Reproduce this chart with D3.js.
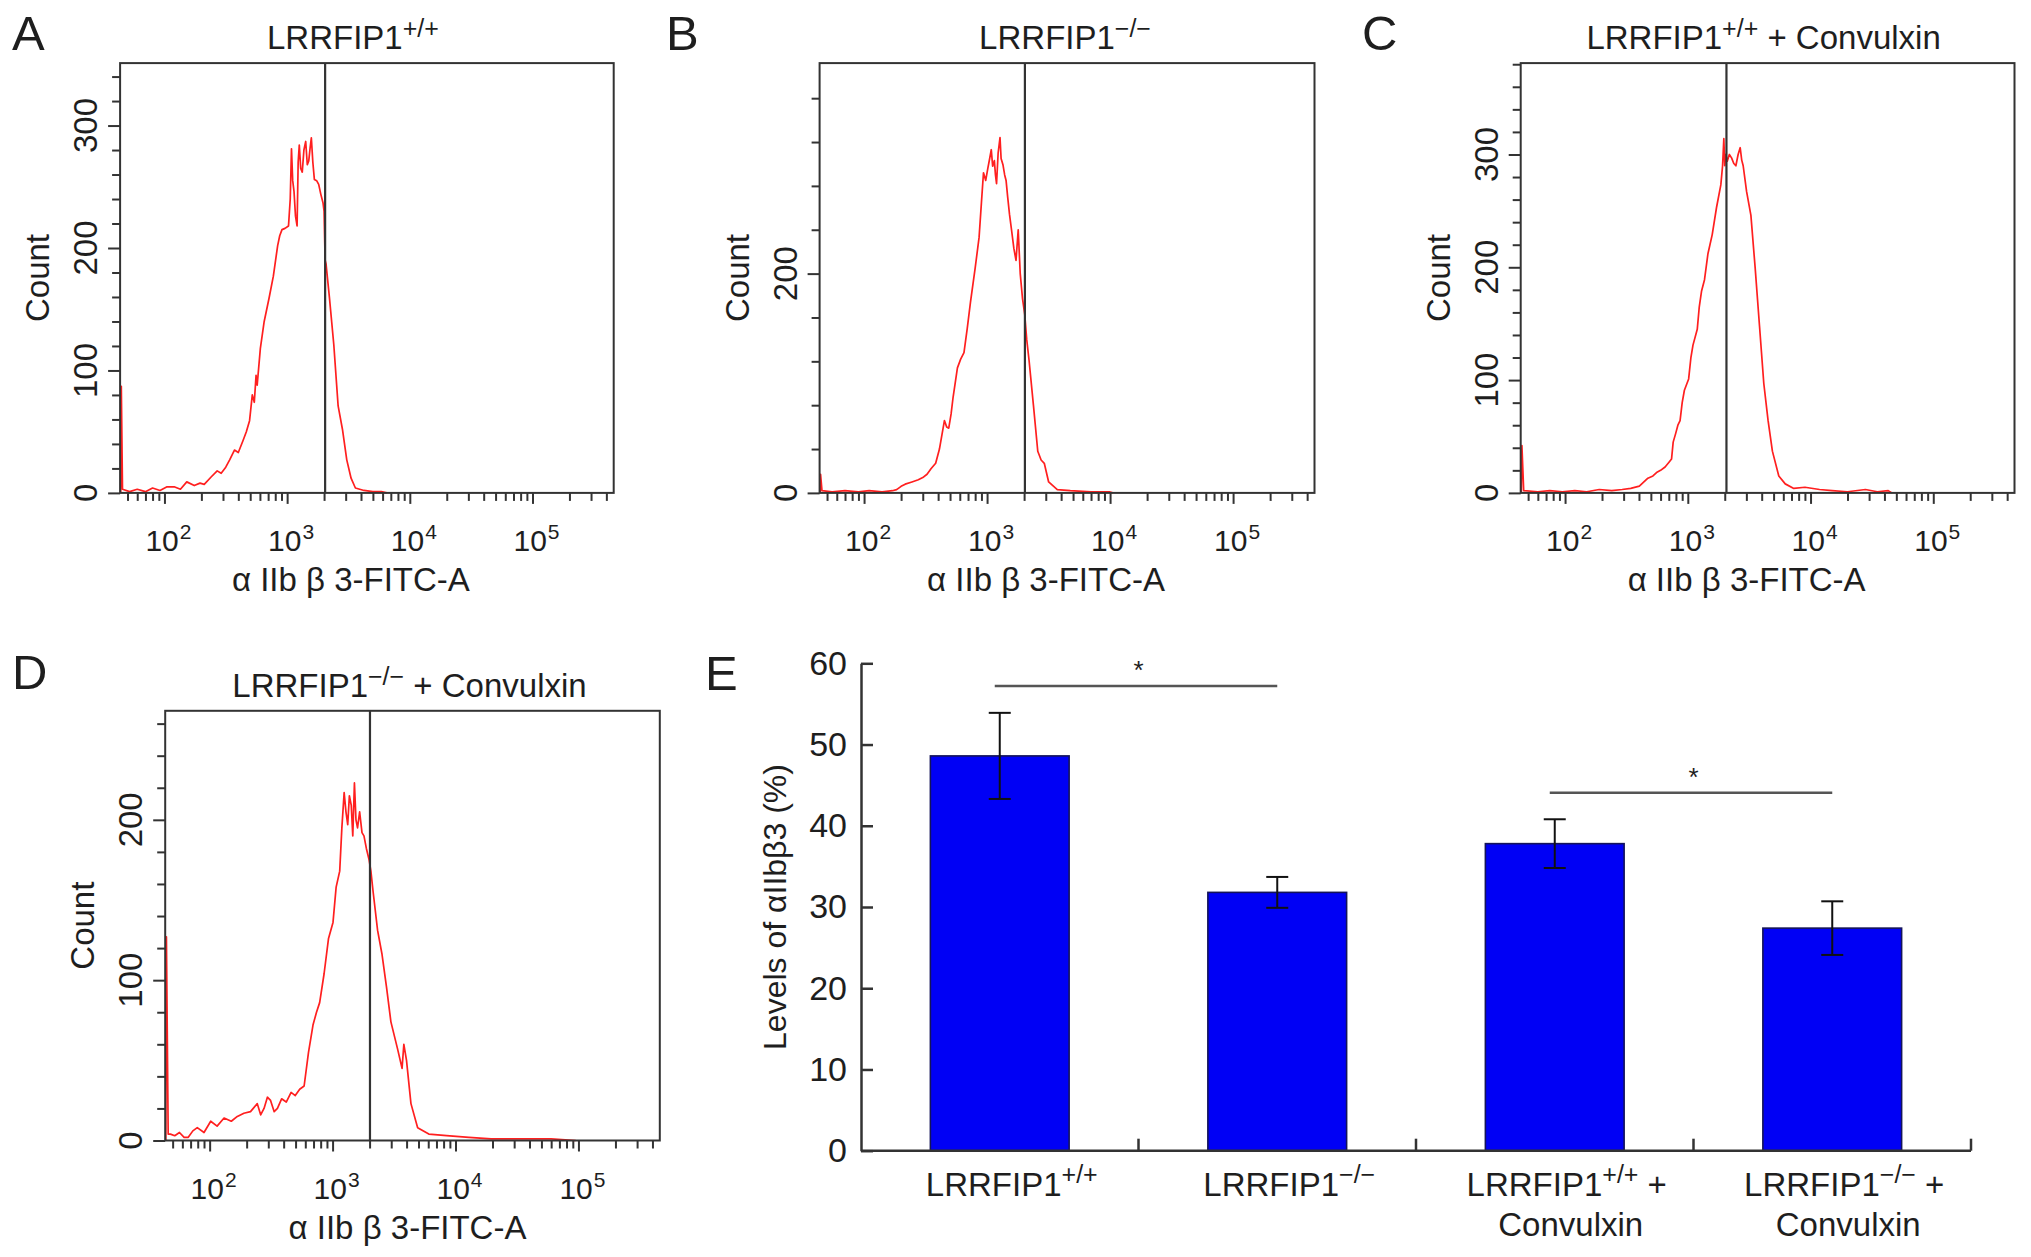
<!DOCTYPE html>
<html><head><meta charset="utf-8">
<script src="https://cdn.jsdelivr.net/npm/d3@7"></script>
<style>
body{margin:0;background:#fff}
svg{display:block}
text{font-family:"Liberation Sans",Arial,Helvetica,sans-serif;fill:#1e1e1e}
</style>
</head><body>
<svg id="chart" width="2031" height="1257"></svg>
<script>
// ---------------- DATA ----------------
// Histogram panels: [fluorescence intensity, count]
const histA = [[44,0],[44.5,87],[45.5,3],[52,1],[60,3],[70,1],[80,4],[92,2],[105,5],[120,5],[135,3],[152,9],[175,6],[195,8],[211,7],[240,13],[269,18],[290,16],[316,21],[340,27],[372,35],[400,33],[438,43],[465,50],[494,59],[520,80],[540,74],[558,96],[570,88],[605,118],[650,140],[712,159],[772,177],[837,202],[870,210],[908,215],[960,216],[1026,218],[1060,240],[1085,281],[1110,255],[1138,246],[1170,226],[1205,218],[1230,270],[1256,284],[1290,265],[1328,262],[1370,280],[1417,287],[1460,268],[1500,271],[1540,282],[1575,290],[1620,270],[1667,256],[1740,255],[1808,252],[1880,244],[1960,237],[2000,230],[2040,190],[2075,187],[2214,159],[2401,121],[2604,71],[2823,52],[3062,27],[3320,12],[3600,4],[4235,2],[5000,1],[5860,1],[6500,0]];
const histB = [[44,0],[44.3,17],[45.5,2],[55,1],[70,2],[90,1],[110,2],[140,1],[170,2],[184,3],[200,6],[216,8],[245,10],[276,12],[300,14],[325,17],[350,22],[382,27],[410,40],[450,66],[470,60],[488,59],[510,72],[529,87],[574,114],[610,122],[649,128],[690,150],[733,174],[800,205],[861,233],[900,265],[935,292],[975,285],[1014,296],[1050,305],[1082,313],[1110,298],[1146,303],[1170,290],[1194,282],[1230,310],[1274,324],[1300,305],[1348,299],[1390,290],[1427,285],[1470,270],[1522,254],[1580,240],[1651,223],[1719,212],[1791,240],[1860,200],[1942,177],[2023,163],[2100,140],[2194,121],[2381,80],[2583,38],[2750,30],[2918,27],[3166,10],[3722,3],[4752,2],[7000,1],[9860,1],[10500,0]];
const histC = [[44,0],[44.5,42],[46,2],[60,1],[75,2],[95,1],[120,2],[150,1],[190,3],[240,2],[292,3],[343,4],[403,6],[473,13],[520,15],[556,18],[600,20],[653,23],[700,27],[737,30],[760,45],[798,53],[830,60],[865,64],[900,80],[938,91],[1016,101],[1060,120],[1102,131],[1194,145],[1240,165],[1295,179],[1368,189],[1459,212],[1581,229],[1714,253],[1858,273],[1920,290],[1966,314],[2000,290],[2040,300],[2097,294],[2180,300],[2273,297],[2370,292],[2464,290],[2570,300],[2671,306],[2750,295],[2826,290],[3014,267],[3267,246],[3541,199],[3839,148],[4161,97],[4510,64],[4889,37],[5512,15],[6220,8],[7306,4],[9000,5],[11840,3],[15000,2],[20000,1],[28000,3],[35000,1],[42950,2],[46000,0]];
const histD = [[44,0],[44.5,127],[46,4],[48,4],[52,3],[56.8,5],[62,2],[67,2],[73,6],[79.3,8],[90,5],[102,12],[115,9],[131,14],[150,12],[168,15],[190,17],[215,18],[244,23],[260,16],[277,20],[295,27],[313,25],[335,18],[356,20],[385,26],[420,24],[460,30],[497,28],[540,32],[587,34],[637,55],[693,72],[740,80],[785,86],[853,104],[927,126],[1008,136],[1069,158],[1143,168],[1190,195],[1242,217],[1285,205],[1328,197],[1370,215],[1419,209],[1460,190],[1506,223],[1550,200],[1596,195],[1660,205],[1735,192],[1800,190],[1885,182],[1982,175],[2050,168],[2138,155],[2324,131],[2526,116],[2743,96],[2982,74],[3381,57],[3675,45],[3800,60],[3994,50],[4341,23],[4921,8],[6064,4],[8470,3],[12850,2],[19500,1],[30000,1],[44900,1],[60000,1],[95100,0]];

const panelLetters = ["A","B","C","D","E"];
const panelGenotype = ["+/+","\u2212/\u2212","+/+","\u2212/\u2212"];
const panelTreated = [false,false,true,true];
const gateValues = [2040,2030,2065,2015];
const countMax = [351,392,381,268];
const countMinorStep = [20,40,20,20];
const countMajorTicks = [[0,100,200,300],[0,200],[0,100,200,300],[0,100,200]];
const xDomain = [43.5,459000];
const xDecades = [100,1000,10000,100000];
const xLabel = "\u03b1 IIb \u03b2 3-FITC-A";

// Bar chart panel E
const groups = ["LRRFIP1 +/+","LRRFIP1 -/-","LRRFIP1 +/+ + Convulxin","LRRFIP1 -/- + Convulxin"];
const groupSup = ["+/+","\u2212/\u2212","+/+","\u2212/\u2212"];
const groupLine2 = ["","","Convulxin","Convulxin"];
const means = [48.6,31.8,37.8,27.4];
const sems = [5.3,1.9,3.0,3.3];
const yTicksE = [0,10,20,30,40,50,60];
const sigPairs = [[0,1,57.2],[2,3,44.05]];
const yLabelE = "Levels of \u03b1IIb\u03b23 (%)";

// ---------------- LAYOUT ----------------
const svg = d3.select("#chart");
const boxes = [
  {l:120.1,r:613.7,t:63.1,b:492.9,xl:-16,tl:-14},
  {l:819.6,r:1314.5,t:63.1,b:492.9,xl:-21,tl:-2},
  {l:1520.7,r:2014.5,t:63.1,b:492.9,xl:-21,tl:-4},
  {l:165.2,r:659.8,t:710.8,b:1140.5,xl:-5,tl:-3}
];
const histData = [histA,histB,histC,histD];
const letterPos = [[12,50],[666,50],[1362,50],[12,689],[705,690]];

panelLetters.forEach((L,i)=>{
  svg.append("text").attr("x",letterPos[i][0]).attr("y",letterPos[i][1])
    .attr("font-size",49).text(L);
});

function minorVals(){
  const v=[];
  for(let n=1;n<=5;n++) for(let k=2;k<=9;k++){
    const val=k*Math.pow(10,n);
    if(val>=xDomain[0]&&val<=xDomain[1]) v.push(val);
  }
  return v;
}

histData.forEach((data,i)=>{
  const bx = boxes[i];
  const g = svg.append("g");
  const x = d3.scaleLog().domain(xDomain).range([bx.l,bx.r]);
  const y = d3.scaleLinear().domain([0,countMax[i]]).range([bx.b,bx.t]);

  // x ticks
  const gxMinor = g.append("g").attr("transform",`translate(0,${bx.b})`)
    .call(d3.axisBottom(x).tickValues(minorVals()).tickSize(8).tickSizeOuter(0).tickFormat(()=>""));
  const gxMajor = g.append("g").attr("transform",`translate(0,${bx.b})`)
    .call(d3.axisBottom(x).tickValues(xDecades).tickSize(11).tickSizeOuter(0).tickFormat(()=>""));
  [gxMinor,gxMajor].forEach(a=>{a.select(".domain").remove();a.selectAll("line").attr("stroke","#333").attr("stroke-width",2);});

  xDecades.forEach(v=>{
    const t = g.append("text").attr("x",x(v)+4).attr("y",bx.b+58)
      .attr("text-anchor","middle").attr("font-size",30);
    t.append("tspan").text("10");
    t.append("tspan").attr("font-size",21).attr("dx",1).attr("dy",-12).text(Math.round(Math.log10(v)));
  });

  // y ticks
  const minors = d3.range(0,countMax[i],countMinorStep[i]).filter(v=>!countMajorTicks[i].includes(v));
  const gyMinor = g.append("g").attr("transform",`translate(${bx.l},0)`)
    .call(d3.axisLeft(y).tickValues(minors).tickSize(8).tickSizeOuter(0).tickFormat(()=>""));
  const gyMajor = g.append("g").attr("transform",`translate(${bx.l},0)`)
    .call(d3.axisLeft(y).tickValues(countMajorTicks[i]).tickSize(12).tickSizeOuter(0).tickFormat(()=>""));
  [gyMinor,gyMajor].forEach(a=>{a.select(".domain").remove();a.selectAll("line").attr("stroke","#333").attr("stroke-width",2);});
  countMajorTicks[i].forEach(v=>{
    g.append("text").attr("transform",`translate(${bx.l-23},${y(v)}) rotate(-90)`)
      .attr("text-anchor","middle").attr("font-size",33).text(v);
  });

  // histogram curve
  g.append("path").datum(data)
    .attr("d",d3.line().x(d=>x(d[0])).y(d=>y(d[1])))
    .attr("fill","none").attr("stroke","#ff1f1f").attr("stroke-width",1.7).attr("stroke-linejoin","round");

  // gate line
  g.append("line").attr("x1",x(gateValues[i])).attr("x2",x(gateValues[i]))
    .attr("y1",bx.t).attr("y2",bx.b).attr("stroke","#333").attr("stroke-width",2.2);

  // frame
  g.append("rect").attr("x",bx.l).attr("y",bx.t).attr("width",bx.r-bx.l).attr("height",bx.b-bx.t)
    .attr("fill","none").attr("stroke","#333").attr("stroke-width",2);

  // title
  const cx=(bx.l+bx.r)/2;
  const tt = g.append("text").attr("x",cx+bx.tl).attr("y",bx.t-14).attr("text-anchor","middle").attr("font-size",33);
  tt.append("tspan").text("LRRFIP1");
  tt.append("tspan").attr("font-size",25).attr("dy",-12).text(panelGenotype[i]);
  if(panelTreated[i]) tt.append("tspan").attr("dy",12).text(" + Convulxin");

  // axis labels
  g.append("text").attr("x",cx+bx.xl).attr("y",bx.b+98).attr("text-anchor","middle").attr("font-size",33).text(xLabel);
  g.append("text").attr("transform",`translate(${bx.l-71},${(bx.t+bx.b)/2}) rotate(-90)`)
    .attr("text-anchor","middle").attr("font-size",33).text("Count");
});

// ---------------- PANEL E ----------------
const E = {l:861,r:1971,t:663.3,b:1150.7};
const xE = d3.scaleBand().domain(groups).range([E.l,E.r]).paddingInner(0.5).paddingOuter(0.25);
const yE = d3.scaleLinear().domain([0,60]).range([E.b,E.t]);
const gE = svg.append("g");

// bars
gE.selectAll("rect.bar").data(groups).join("rect").attr("class","bar")
  .attr("x",d=>xE(d)).attr("width",xE.bandwidth())
  .attr("y",(d,i)=>yE(means[i])).attr("height",(d,i)=>yE(0)-yE(means[i]))
  .attr("fill","#0000f5").attr("stroke","#14145a").attr("stroke-width",1.6);

// error bars
groups.forEach((d,i)=>{
  const cx = xE(d)+xE.bandwidth()/2;
  const eg = gE.append("g").attr("stroke","#111").attr("stroke-width",2);
  eg.append("line").attr("x1",cx).attr("x2",cx).attr("y1",yE(means[i]+sems[i])).attr("y2",yE(means[i]-sems[i]));
  [means[i]+sems[i],means[i]-sems[i]].forEach(v=>{
    eg.append("line").attr("x1",cx-11).attr("x2",cx+11).attr("y1",yE(v)).attr("y2",yE(v));
  });
});

// y axis
const gyE = gE.append("g").attr("transform",`translate(${E.l},0)`)
  .call(d3.axisLeft(yE).tickValues(yTicksE).tickSizeInner(-12).tickSizeOuter(0).tickPadding(14));
gyE.select(".domain").attr("stroke","#333").attr("stroke-width",2.5);
gyE.selectAll(".tick line").attr("stroke","#333").attr("stroke-width",2.5);
gyE.selectAll(".tick text").attr("font-size",34).attr("font-family","Liberation Sans, Arial, sans-serif").attr("fill","#1e1e1e");

// x axis line + inward ticks at band boundaries
gE.append("line").attr("x1",E.l).attr("x2",E.r).attr("y1",yE(0)).attr("y2",yE(0)).attr("stroke","#333").attr("stroke-width",2.5);
const step = xE.step();
groups.forEach((d,i)=>{
  const bx = i<groups.length-1 ? xE(groups[i+1]) - step*xE.paddingInner()/2 : E.r;
  gE.append("line").attr("x1",bx).attr("x2",bx).attr("y1",yE(0)).attr("y2",yE(0)-12).attr("stroke","#333").attr("stroke-width",2.5);
});

// category labels
groups.forEach((d,i)=>{
  const cx = xE(d)+xE.bandwidth()/2+12;
  const t = gE.append("text").attr("x",cx).attr("y",1196).attr("text-anchor","middle").attr("font-size",33);
  t.append("tspan").text("LRRFIP1");
  t.append("tspan").attr("font-size",25).attr("dy",-13).text(groupSup[i]);
  if(groupLine2[i]){
    t.append("tspan").attr("dy",13).text(" +");
    gE.append("text").attr("x",cx+4).attr("y",1236).attr("text-anchor","middle").attr("font-size",33).text(groupLine2[i]);
  }
});

// y label
gE.append("text").attr("transform",`translate(786,${(E.t+E.b)/2}) rotate(-90)`)
  .attr("text-anchor","middle").attr("font-size",32).text(yLabelE);

// significance
sigPairs.forEach(([a,b,lvl])=>{
  const x1 = xE(groups[a])+xE.bandwidth()/2, x2 = xE(groups[b])+xE.bandwidth()/2;
  gE.append("line").attr("x1",x1-5).attr("x2",x2).attr("y1",yE(lvl)).attr("y2",yE(lvl)).attr("stroke","#555").attr("stroke-width",2.5);
  gE.append("text").attr("x",(x1+x2)/2).attr("y",yE(lvl)-7).attr("text-anchor","middle").attr("font-size",26).text("*");
});
</script>
</body></html>
